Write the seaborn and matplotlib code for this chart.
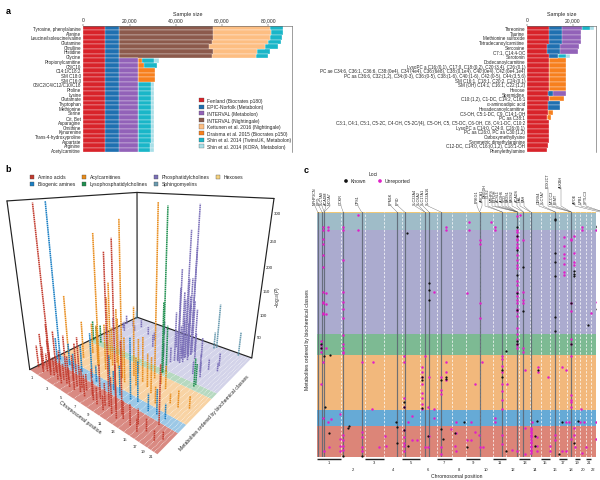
#!/usr/bin/env python3
"""Three panel figure: cohort sample sizes, 3D association landscape, locus map."""
import numpy as np
import pandas as pd
import seaborn as sns
import matplotlib
matplotlib.use("Agg")
import matplotlib.pyplot as plt
from matplotlib.patches import Patch, Polygon

W, H = 600, 481

# panel a: metabolite rows
LEFT_ROWS = ["Tyrosine, phenylalanine", "Alanine", "Leucine/isoleucine/valine", "Glutamine", "Citrulline",
             "Histidine", "Glycine", "Propionylcarnitine", "C8/C10", "C14:1/C18:2", "SM C18:0", "SM C16:0",
             "C6/C2/C4/C12/C10/C18", "Proline", "Lysine", "Glutamate", "Tryptophan", "Methionine", "Serine",
             "Cit, Bet", "Asparagine", "Ornithine", "Kynurenine", "Trans-4-hydroxyproline", "Aspartate",
             "Arginine", "Acetylcarnitine"]
RIGHT_ROWS = ["Threonine", "Taurine", "Methionine sulfoxide", "Tetradecanoylcarnitine", "Sarcosine",
              "C7:1, C14:4-OC", "Serotonin", "Dodecanoylcarnitine",
              "LysoPC a C16:(0,1), C17:0, C18:(0,2), C20:(3,4), C26:(0,1)",
              "PC ae C34:6, C36:1, C36:6, C38:(0e4), C34 (4e4), C36:(6e8), C38:(0,1e4), C40:(0e4), C42:(0e4,1e4)",
              "PC aa C36:6, C32:(1,2), C34:(0-3), C36:(0-5), C38:(1-6), C40:(1-6), C42:(0-5), C44:(3,5,6)",
              "SM C16:1, C18:1, C20:2, C24:(0,1)", "SM (OH) C14:1, C16:1, C22:(1,2)", "Hexose", "Spermidine",
              "C10:(1,2), C1-DC, C14:2, C16:1", "\u03b1-aminoadipic acid", "Hexadecanoylcarnitine",
              "C3-OH, C5:1-DC, C9, C14:1-OH", "PC aa C38:1",
              "C3:1, C4:1, C5:1, C5-2C, C4-OH, C5-2C/(4), C5-OH, C5, C5-DC, C6-OH, C8, C4:1-DC, C10:2",
              "LysoPC a C14:0, C24:0, C26:(0,1)", "PC aa C26:0, PC aa C30:(1,2)", "Carboxymethyllysine",
              "Symmetric dimethylarginine", "C12-DC, C14:0, C16:(0,1,2), C18:1-OH", "Phenylethylamine"]

STUDIES = ["Fenland (Biocrates p180)", "EPIC-Norfolk (Metabolon)", "INTERVAL (Metabolon)", "INTERVAL (Nightingale)",
           "Kettunen et al. 2016 (Nightingale)", "Draisma et al. 2015 (Biocrates p150)",
           "Shin et al. 2014 (TwinsUK, Metabolon)", "Shin et al. 2014 (KORA, Metabolon)"]
STUDY_COLORS = ["#d8232a", "#1f70b0", "#9262b8", "#8c5a4c", "#fdbe82", "#f7801e", "#1ab6c8", "#a8dfe8"]

# sample size per study, left panel rows
L_FEN = [9400] * 27
L_EPIC = [5900] * 27
L_IM = [0] * 7 + [8300] * 20
L_IN = [40700, 40700, 40700, 40200, 39000, 40700, 40300] + [0] * 20
L_KET = [24900, 25000, 24600, 24400, 24500, 19200, 19100] + [0] * 20
L_DRA = [0] * 7 + [1700, 2600, 7500, 7500, 7500] + [0] * 15
L_TUK = [5500, 5300, 5400, 5500, 5400, 5500, 5300, 5400, 5500, 0, 0, 0] + [5700] * 10 + [5600, 5600, 5500, 5400, 5300]
L_KOR = [0] * 7 + [1900] + [0] * 4 + [1500] * 10 + [1500, 1500, 1500, 1600, 1700]

# sample size per study, right panel rows
R_FEN = [9500, 9500, 9500, 9500, 8900, 8900, 9500, 9500, 9500, 9500, 9500, 9500, 9500, 9500, 9300, 9500, 9300,
         9300, 9300, 8700, 9500, 9500, 9400, 9400, 9400, 9000, 8800]
R_EPIC = [5900, 5800, 5800, 5800, 5600, 5600, 3900, 0, 0, 0, 0, 0, 0, 0, 2200, 0, 5200, 5200, 0, 0, 0, 0, 0, 0, 0, 0, 0]
R_IM = [8700, 8500, 8500, 8500, 8500, 8000] + [0] * 8 + [5500] + [0] * 12
R_DRA = [0] * 7 + [7500] * 7 + [0, 6500, 0, 0, 1900, 1700] + [0] * 7
R_TUK = [3700] + [0] * 5 + [3700] + [0] * 20
R_KOR = [1800] + [0] * 5 + [1900] + [0] * 20

# panel b: stems as (genome fraction, class fraction on the floor, -log10 P)
SM_STEMS = [(.02, .97, 22), (.76, .97, 105), (.75, .95, 40), (.92, .97, 55)]
PC_STEMS = [(.67, .78, 315), (.66, .72, 270), (.67, .78, 235), (.65, .66, 200), (.64, .67, 160), (.65, .7, 150),
            (.66, .73, 175), (.67, .75, 175), (.63, .65, 110), (.64, .73, 130), (.65, .77, 135), (.66, .81, 120),
            (.67, .83, 100), (.68, .67, 95), (.69, .71, 125), (.67, .65, 85), (.72, .75, 60), (.74, .8, 45),
            (.8, .6, 30), (.82, .65, 40), (.85, .6, 35), (.85, .7, 25), (.88, .78, 30), (.9, .72, 20),
            (.62, .62, 35), (.62, .75, 20), (.6, .85, 60), (.54, .8, 40), (.54, .65, 30), (.41, .7, 30),
            (.36, .78, 20), (.36, .9, 35), (.27, .82, 20), (.15, .8, 15), (.15, .88, 20), (.09, .75, 25),
            (.09, .85, 15), (.02, .7, 35), (.02, .85, 25), (.03, .62, 20), (.05, .78, 15)]
LPC_STEMS = [(.02, .5, 50), (.03, .52, 35), (.087, .51, 45), (.65, .5, 318), (.65, .49, 150), (.66, .52, 100),
             (.87, .5, 60), (.87, .52, 45)]
AC_STEMS = [(.03, .27, 135), (.3, .3, 270), (.3, .4, 170), (.5, .3, 300), (.65, .42, 325), (.15, .3, 85),
            (.15, .38, 70), (.26, .33, 75), (.29, .3, 90), (.36, .3, 100), (.36, .36, 85), (.36, .4, 120),
            (.41, .28, 160), (.41, .36, 110), (.5, .3, 60), (.54, .28, 95), (.54, .36, 145), (.54, .4, 75),
            (.61, .3, 60), (.617, .35, 95), (.669, .33, 70), (.72, .3, 75), (.76, .38, 50), (.85, .3, 20),
            (.79, .25, 35), (.9, .3, 35), (.712, .4, 25), (.95, .33, 25)]
BA_STEMS = [(.05, .19, 322), (.03, .18, 50), (.148, .19, 50), (.2, .18, 35), (.267, .19, 60), (.36, .19, 95),
            (.41, .18, 35), (.5, .2, 65), (.542, .19, 40), (.6, .18, 60), (.669, .19, 120), (.712, .2, 80),
            (.8, .18, 35), (.847, .19, 50), (.9, .19, 30)]
AA_STEMS = [(.087, .09, 322), (.62, .08, 265), (.66, .09, 285), (.02, .05, 50), (.03, .08, 45), (.05, .06, 35),
            (.06, .1, 60), (.087, .04, 85), (.1, .06, 40), (.12, .07, 45), (.148, .05, 110), (.148, .09, 90),
            (.17, .06, 40), (.2, .08, 30), (.22, .05, 50), (.25, .07, 35), (.267, .04, 70), (.267, .09, 50),
            (.292, .06, 100), (.3, .1, 55), (.33, .05, 40), (.359, .08, 90), (.373, .05, 55), (.39, .09, 40),
            (.413, .06, 110), (.43, .09, 35), (.46, .05, 45), (.49, .08, 55), (.52, .06, 40), (.542, .09, 70),
            (.56, .05, 35), (.6, .07, 45), (.617, .04, 30), (.669, .05, 70), (.712, .04, 100), (.712, .08, 135),
            (.74, .06, 35), (.795, .05, 40), (.82, .08, 30), (.847, .04, 25), (.88, .07, 25), (.9, .14, 110),
            (.943, .05, 20), (.97, .08, 15)]

CLASS_NAMES = ["Amino acids", "Biogenic amines", "Acylcarnitines", "Lysophosphatidylcholines",
               "Phosphatidylcholines", "Sphingomyelins", "Hexoses"]
CLASS_COLORS = ["#c23b2e", "#1a7fc4", "#e88b1a", "#1f8f4f", "#7b70b8", "#6a9bb0", "#f5d27f"]
FLOOR_COLORS = ["#d98a82", "#9cc8e6", "#f8d3a4", "#b6d9c0", "#d3d3e9"]
FLOOR_EDGES = [0, .155, .225, .47, .53, 1.0]
Z_TICKS = [50, 100, 150, 200, 250, 300]

# panel c: chromosome sizes (Mb) and genome positions (cumulative Mb)
CHROM_MB = [249, 243, 198, 191, 181, 171, 159, 146, 141, 135, 135, 133, 115, 107, 102, 90, 81, 78, 59, 63, 48, 51]
LINE_MB = [7, 52, 74, 270, 459, 825, 903, 1110, 1154, 1277, 1676, 1909, 2065, 2128, 2202, 2457, 2620, 2916, 2953]

BAND_EDGES = [0, 21.8, 33.6, 73, 88, 162, 174, 175]
BAND_COLORS = ["#dc8578", "#66aad6", "#f2b87c", "#7dba93", "#ababcf", "#9fbcc8", "#efc878"]

KNOWN_X = [929, 2457, 2457, 2457, 2457, 2457, 2457, 2902, 2883, 2883, 2953, 2953, 2065, 2065, 2065, 2065, 2065, 2065,
           2128, 2128, 2646, 2646, 2646, 1158, 1158, 1158, 2891, 2620, 37, 37, 74, 133, 1946, 2065, 2065, 2620, 2457,
           2797, 2953, 78, 899, 899, 1084, 1084, 1084, 1277, 1328, 1328, 1906, 1906, 2276, 814, 825, 1517, 2268, 2527,
           2694, 326, 315, 122, 899, 936, 825, 1140, 1277, 1299, 1418, 1547, 1946, 2246, 2246, 2498, 2646, 3045, 270, 459]
KNOWN_Y = [160, 170, 169, 146, 139, 129, 100, 140, 165, 164, 170, 168, 164, 158, 148, 130, 117, 105,
           136, 104, 133, 131, 129, 124, 119, 112, 106, 110, 81, 78, 72, 73, 76, 83, 81, 81, 90,
           94, 90, 36, 36, 39, 57, 55, 35, 55, 57, 56, 62, 57, 62, 25, 21.5, 25, 26, 25,
           26, 22, 21, 17, 19, 8, 10, 15, 20, 13, 17, 7, 4, 15, 8, 2, 10, 16, 1, 1]

UNREP_X = [418, 1565, 1795, 2065, 2094, 2916, 2916, 59, 59, 115, 115, 270, 270, 418, 1328, 1328, 1565, 1832, 1832,
           2065, 2731, 2731, 2879, 2916, 2946] + \
    [59] * 9 + [96] * 3 + [270] * 5 + [1202, 1547] + [1676] * 4 + [2065] * 20 + [2128] * 4 + [2546] * 7 + \
    [2620] * 4 + [2646] * 4 + [2891, 2825, 2916] + \
    [37] * 4 + [96] + [270] * 5 + [2065] * 6 + [2128] * 2 + [2620] * 2 + \
    [59, 41, 462, 574, 900, 899, 1110] + [1084] * 7 + [1158] + [1277] * 3 + [1328] * 3 + [1706, 1632] + \
    [1906] * 7 + [1954, 2142, 2276, 2276, 2386, 2527, 2564] + [2620] * 5 + [566, 899, 899, 1147, 1206, 1084, 1906, 2720] + \
    [233, 148, 115, 59, 984, 936, 1206, 1436, 1584, 1832, 1832, 2213, 2564, 2601, 2712, 2749, 2871, 2990, 2916, 2934] + \
    [122, 74, 233, 233, 233, 270, 270, 270, 270, 459, 459, 459, 459, 636, 696, 714, 899, 899, 899, 899, 899, 984, 1033,
     1110, 1140, 1158, 1277, 1277, 1380, 1436, 1418, 1436, 1547, 1584, 1628, 1669, 1676, 1713, 1906, 1906, 2009, 2065] + \
    [2202] * 16 + [2139, 2146, 2268, 2268, 2268, 2398, 2398, 2454, 2454, 2527, 2564, 2646, 2646, 2620, 2664, 2768, 2879,
                   2953, 3071, 2934, 2990, 2731]
UNREP_Y = [173, 168, 168, 172, 173, 172, 168, 164, 162, 164, 162, 164, 162, 162, 164, 162, 162, 164, 162,
           162, 164, 162, 162, 164, 165] + \
    [155.5, 152, 144, 136, 118, 111, 110, 103, 102] + [117, 109, 102] + [141, 118, 111, 106, 99] + [118, 117] + \
    [155, 152, 110, 99] + \
    [161, 158, 156, 155, 152, 150, 149, 144, 141, 137, 135, 126, 123, 118, 115, 112, 110, 106, 104, 101] + \
    [155, 118, 112, 110] + [157, 151, 145, 142, 138, 132, 130] + [156, 155, 110, 104] + [158, 146, 139, 137] + \
    [111, 103, 102] + \
    [83, 80, 78, 75] + [78] + [87, 81, 78, 75, 74] + [92, 88, 84, 81, 80, 78] + [78, 75] + [84, 81] + \
    [68, 52, 68, 68, 72, 68, 72] + [64, 61, 57, 52, 46, 42, 38] + [57] + [57, 48, 45] + [68, 61, 55] + [68, 52] + \
    [72, 70, 65, 61, 52, 47, 41] + [52, 62, 64, 61, 57, 64, 62] + [72, 44, 41, 39, 36] + [34, 42, 36, 36, 34, 34, 34, 34] + \
    [31, 27, 25, 28, 29, 25, 28, 25, 25, 28, 25, 25, 25, 25, 25, 25, 25, 25, 32, 31] + \
    [7, 4, 13, 8, 4, 16, 12, 8, 5, 18, 14, 7, 4, 7, 15, 8, 19, 14, 10, 8, 4, 12, 12,
     7, 7, 15, 7, 2, 20, 17, 8, 4, 12, 12, 18, 16, 7, 7, 9, 16, 5, 4] + \
    [21, 20, 19, 18, 17, 16, 15, 14, 12, 11, 10, 8, 7, 5, 4, 3] + \
    [21, 2, 14, 8, 4, 8, 4, 16, 12, 4, 4, 21, 16, 13, 7, 7, 13, 8, 12, 18, 3, 3]

GENE_NAMES = ["NPHP3CN", "LIPG", "SLC7A9", "ACADM", "NCOA7", "GCKR", "CPS1", "PPM1K", "PPID", "SLC22A4", "SLC6A2",
              "SLC17A1", "SLC22A16", "PRKG1", "ABCA1", "DMGDH", "GLS2", "MTHFS", "ETFDH", "ACSL1", "ALDH6", "SCD",
              "FADS1", "FADS2", "ACADS", "HAL", "PAH", "CERS4", "SLC7A7", "PDX2CT", "MCCC2", "PEMT", "ALKBH", "APOE",
              "UPB1", "SPTLC3"]
GENE_LABEL_PX = [315, 319, 322, 326, 330, 341, 358, 391, 398, 415, 419, 423, 428,
                 477, 482, 485, 488, 492, 495, 498, 502, 505, 508, 512, 517, 520, 524,
                 539, 543, 548, 552, 556, 561, 575, 581, 586]
GENE_LABEL_TOP = [205, 205, 205, 205, 205, 205, 205, 205, 205, 205, 205, 205, 205,
                  203, 202, 198, 198, 202, 202, 202, 202, 202, 202, 202, 202, 202, 202,
                  204, 204, 188, 204, 204, 188, 204, 204, 204]
GENE_LINE_MB = [7, 52, 74, 74, 74, 270, 459, 825, 903, 1110, 1110, 1154, 1277,
                1676, 1676, 1909, 1909, 2065, 2065, 2065, 2065, 2065, 2065, 2128, 2128, 2202, 2202,
                2457, 2457, 2620, 2620, 2620, 2620, 2916, 2953, 2953]


def ax_px(fig, left, top, right, bottom):
    return fig.add_axes([left / W, 1 - bottom / H, (right - left) / W, (bottom - top) / H])


def stacked_panel(ax, rows, series, colors, xmax, ticks):
    totals = np.cumsum(np.array(series), axis=0)
    # largest cumulative first, the shorter ones paint over it
    for i in range(len(series) - 1, -1, -1):
        sns.barplot(x=totals[i], y=rows, order=rows, orient="h", color=colors[i], saturation=1,
                    width=1, edgecolor="white", linewidth=.22, ax=ax)
    ax.set_xlim(0, xmax)
    ax.set_ylim(len(rows) - .5, -.5)
    ax.xaxis.tick_top()
    ax.xaxis.set_label_position("top")
    ax.set_xticks(ticks)
    ax.set_xticklabels([f"{t:,}" for t in ticks], fontsize=3.6)
    ax.set_xlabel("Sample size", fontsize=3.9, labelpad=1.5)
    ax.set_ylabel("")
    ax.tick_params(axis="x", length=1.5, width=.3, pad=.8)
    ax.tick_params(axis="y", length=0, pad=1.5, labelsize=3.25)
    for s in ["left", "bottom"]:
        ax.spines[s].set_visible(False)
    for s in ["top", "right"]:
        ax.spines[s].set_linewidth(.4)
        ax.spines[s].set_color("#555555")


def fit_projection():
    # corners of the box: unit coords -> pixel
    unit = [(0, 0, 0), (1, 0, 0), (1, 1, 0), (0, 1, 0), (0, 0, 1), (0, 1, 1), (1, 1, 1)]
    pix = [(30, 370), (157, 456), (252, 358), (137, 319), (7, 202), (137, 193), (274, 200)]
    rows = []
    for (x, y, z), (u, v) in zip(unit, pix):
        rows.append([x, y, z, 1, 0, 0, 0, 0, -u * x, -u * y, -u * z, -u])
        rows.append([0, 0, 0, 0, x, y, z, 1, -v * x, -v * y, -v * z, -v])
    return np.linalg.svd(np.array(rows))[2][-1].reshape(3, 4)


def project(P, x, y, z):
    x, y, z = np.asarray(x, float), np.asarray(y, float), np.asarray(z, float)
    q = P @ np.vstack([x, y, z, np.ones_like(x)])
    return q[0] / q[2], q[1] / q[2]


def panel_b(ov):
    P = fit_projection()
    zmax = 325.0
    for lo, hi, col in zip(FLOOR_EDGES[:-1], FLOOR_EDGES[1:], FLOOR_COLORS):
        px, py = project(P, [0, 1, 1, 0], [lo, lo, hi, hi], [0, 0, 0, 0])
        ov.add_patch(Polygon(np.column_stack([px, py]), fc=col, ec="none", zorder=1))

    # chromosome boundaries on the floor
    bounds = np.cumsum(CHROM_MB) / sum(CHROM_MB)
    for b in bounds[:-1]:
        px, py = project(P, [b, b], [0, 1], [0, 0])
        ov.plot(px, py, color="white", lw=.4, ls=(0, (1.5, 1.5)), zorder=1.5)

    # box frame
    for a, c in [((0, 0, 0), (0, 0, 1)), ((0, 1, 0), (0, 1, 1)), ((1, 1, 0), (1, 1, 1)),
                 ((0, 0, 1), (0, 1, 1)), ((0, 1, 1), (1, 1, 1)), ((0, 0, 0), (0, 1, 0)), ((0, 1, 0), (1, 1, 0))]:
        px, py = project(P, *zip(a, c))
        ov.plot(px, py, color="#222222", lw=.85, zorder=2)

    # stems, back classes first so the amino acids end up in front
    stem_sets = [(SM_STEMS, 5), (PC_STEMS, 4), (LPC_STEMS, 3), (AC_STEMS, 2), (BA_STEMS, 1), (AA_STEMS, 0)]
    for stems, ci in stem_sets:
        rows = []
        for i, (gx, cy, h) in enumerate(stems):
            px, py = project(P, [gx, gx], [cy, cy], [0, h / zmax])
            rows += [{"stem": i, "px": px[0], "py": py[0]}, {"stem": i, "px": px[1], "py": py[1]}]
        df = pd.DataFrame(rows)
        lines = sns.lineplot(data=df, x="px", y="py", units="stem", estimator=None, sort=False, ax=ov,
                             color=CLASS_COLORS[ci], lw=1.15, linestyle=(0, (1, .35)), legend=False, zorder=3)
        lines.set_xlabel("")
        lines.set_ylabel("")

    # axis text
    centers = (np.cumsum(CHROM_MB) - np.array(CHROM_MB) / 2) / sum(CHROM_MB)
    for i in range(0, 22, 2):
        px, py = project(P, [centers[i]], [0], [0])
        ov.text(px[0] - 2, py[0] + 5, str(i + 1), fontsize=3, ha="center", va="center", color="#222222")
    for t in Z_TICKS:
        px, py = project(P, [1], [1], [t / zmax])
        ov.text(px[0] + 5, py[0], str(t), fontsize=3.2, ha="center", va="center", color="#222222")
    ov.text(80, 418, "Chromosomal position", fontsize=3.7, rotation=-37, ha="center", va="center", color="#222222")
    ov.text(214, 413, "Metabolites ordered by biochemical classes", fontsize=3.7, rotation=47.5,
            ha="center", va="center", color="#222222")
    ov.text(278, 297, r"$-\log_{10}(P)$", fontsize=3.4, rotation=90, ha="center", va="center", color="#222222")

    # class legend
    for name, col, (x, y) in zip(CLASS_NAMES, CLASS_COLORS, [(32, 178), (32, 185), (84, 178), (84, 185),
                                                             (156, 178), (156, 185), (218, 178)]):
        ov.add_patch(plt.Rectangle((x - 2.4, y - 2.4), 4.8, 4.8, fc=col, ec="#444444", lw=.25, zorder=3))
        ov.text(x + 6, y, name, fontsize=3.6, va="center", color="#222222")


def panel_c(ax, ov):
    total = sum(CHROM_MB)
    for lo, hi, col in zip(BAND_EDGES[:-1], BAND_EDGES[1:], BAND_COLORS):
        ax.axhspan(lo, hi, color=col, lw=0, zorder=0)
    ends = np.cumsum(CHROM_MB)
    for e in ends[:-1]:
        ax.axvline(e, color="white", lw=.55, ls=(0, (3, 2)), alpha=.9, zorder=1)
    for m in LINE_MB:
        ax.axvline(m, color="#5b6470", lw=.85, alpha=.85, zorder=2)

    known = pd.DataFrame({"pos": KNOWN_X, "rank": KNOWN_Y})
    unrep = pd.DataFrame({"pos": UNREP_X, "rank": UNREP_Y})
    sns.scatterplot(data=unrep, x="pos", y="rank", color="#e020c8", s=3.2, linewidth=0, ax=ax, zorder=3)
    sns.scatterplot(data=known, x="pos", y="rank", color="#111111", s=2.6, linewidth=0, ax=ax, zorder=4)
    ax.set_xlim(0, total)
    ax.set_ylim(0, 175)
    ax.set_xticks([])
    ax.set_yticks([])
    ax.set_xlabel("")
    ax.set_ylabel("")
    sns.despine(ax=ax, left=True, bottom=True)

    # chromosome bars and numbers
    starts = ends - np.array(CHROM_MB)
    px_per_mb = 279.0 / total
    for i, (s, e) in enumerate(zip(starts, ends)):
        x0, x1 = 317 + s * px_per_mb, 317 + e * px_per_mb
        mid = (x0 + x1) / 2
        if i % 2 == 0:
            ov.plot([x0, x1], [460, 460], color="#222222", lw=1.0, solid_capstyle="butt")
        ov.text(mid, 463 if i % 2 == 0 else 470, str(i + 1), fontsize=3, ha="center", va="center", color="#222222")
    ov.text(457, 477, "Chromosomal position", fontsize=3.7, ha="center", va="center", color="#222222")
    ov.text(307, 340, "Metabolites ordered by biochemical classes", fontsize=3.7, rotation=90,
            ha="center", va="center", color="#222222")

    # gene labels with their connector lines
    for name, lx, top, mb in zip(GENE_NAMES, GENE_LABEL_PX, GENE_LABEL_TOP, GENE_LINE_MB):
        ov.text(lx, top, name, fontsize=2.7, rotation=90, ha="center", va="bottom", color="#222222")
        ov.plot([lx, lx, 317 + mb * px_per_mb], [top + .5, 207, 213], color="#555555", lw=.25)

    ov.text(373, 175, "Loci", fontsize=3.6, ha="center", va="center", color="#222222")
    sns.scatterplot(x=[346, 380], y=[182, 182], hue=["Known", "Unreported"], palette=["#111111", "#e020c8"],
                    s=7, linewidth=0, ax=ov, legend=False, zorder=5)
    ov.set_xlabel("")
    ov.set_ylabel("")
    ov.text(350.5, 182, "Known", fontsize=3.6, va="center", color="#222222")
    ov.text(384.5, 182, "Unreported", fontsize=3.6, va="center", color="#222222")


sns.set_theme(style="white")
plt.rcParams["font.family"] = ["Liberation Sans", "DejaVu Sans"]
plt.rcParams["mathtext.fontset"] = "custom"
plt.rcParams["mathtext.rm"] = "Liberation Sans"
plt.rcParams["mathtext.it"] = "Liberation Sans:italic"

fig = plt.figure(figsize=(W / 100, H / 100), dpi=100)

# panel a
ax_l = ax_px(fig, 83.3, 26.6, 292, 153.4)
stacked_panel(ax_l, LEFT_ROWS, [L_FEN, L_EPIC, L_IM, L_IN, L_KET, L_DRA, L_TUK, L_KOR], STUDY_COLORS, 90300,
              [0, 20000, 40000, 60000, 80000])
handles = [Patch(fc=c, ec="#444444", lw=.2, label=s) for c, s in zip(STUDY_COLORS, STUDIES)]
ax_l.legend(handles=handles, loc="lower left", bbox_to_anchor=(.554, .027), frameon=False, fontsize=3.5,
            handlelength=1.0, handleheight=1.0, labelspacing=.33, handletextpad=.7, borderpad=0, borderaxespad=0)

ax_r = ax_px(fig, 527.3, 26.6, 596, 153.4)
stacked_panel(ax_r, RIGHT_ROWS, [R_FEN, R_EPIC, R_IM, R_DRA, R_TUK, R_KOR],
              ["#d8232a", "#1f70b0", "#9262b8", "#f7801e", "#1ab6c8", "#a8dfe8"], 30300, [0, 20000])

# overlay in pixel coordinates for panel b and the free text
ov = fig.add_axes([0, 0, 1, 1], facecolor="none")
ov.set_xlim(0, W)
ov.set_ylim(H, 0)
ov.axis("off")
panel_b(ov)

ax_c = ax_px(fig, 317, 213, 596, 458)
panel_c(ax_c, ov)
ov.set_xlim(0, W)
ov.set_ylim(H, 0)

for letter, x, y in [("a", 8, 11), ("b", 8, 170), ("c", 306, 171)]:
    ov.text(x, y, letter, fontsize=6.5, fontweight="bold", ha="center", va="center", color="black")

fig.savefig("out.png", dpi=100)
